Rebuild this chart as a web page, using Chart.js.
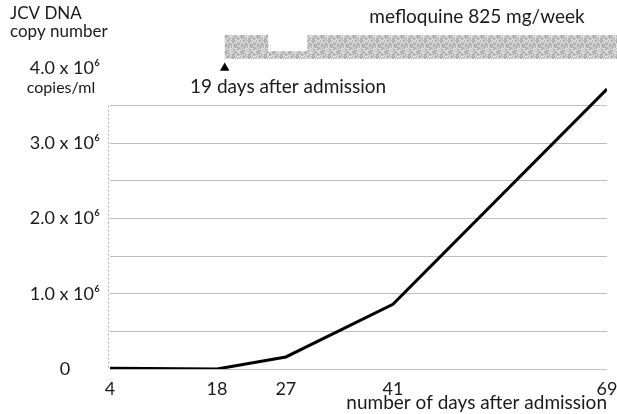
<!DOCTYPE html>
<html>
<head>
<meta charset="utf-8">
<script src="https://cdn.jsdelivr.net/npm/chart.js@4.4.1/dist/chart.umd.min.js"></script>
<style>
  html, body { margin: 0; padding: 0; background: #ffffff; }
  #wrap { width: 617px; height: 414px; }
</style>
</head>
<body>
<div id="wrap"><canvas id="c" width="617" height="414"></canvas></div>
<script>
// ---- data ----
const days = [4, 18, 27, 41, 69];
const copies = [10000, 0, 160000, 860000, 3720000];
const xTicks = [4, 18, 27, 41, 69];
const yTickValues = [0, 500000, 1000000, 1500000, 2000000, 2500000, 3000000, 3500000, 4000000];
const yTickLabels = ['0', '', '1.0 x 10\u2076', '', '2.0 x 10\u2076', '', '3.0 x 10\u2076', '', '4.0 x 10\u2076'];
const markerDay = [19];
const markerLevel = [4000000];
// mefloquine band (drawn above the plot, in axis units)
const bandStart = [19, 24.7, 29.8];
const bandEnd = [24.7, 29.8, 70.3];
const bandTop = [4440000, 4225000, 4440000];
const bandBottom = [4120000, 4120000, 4120000];

const FONT = 'Lato, "Open Sans", "DejaVu Sans", sans-serif';
const TXT = '#1a1a1a';

function makePattern() {
  // deterministic stipple texture (style only)
  const n = 16;
  const pc = document.createElement('canvas');
  pc.width = n; pc.height = n;
  const g = pc.getContext('2d');
  let h = 12345;
  for (let j = 0; j < n; j++) {
    for (let i = 0; i < n; i++) {
      h = (h * 1103515245 + 12345) & 0x7fffffff;
      const t = (h >> 8) % 100;
      const v = 158 + Math.round(t * 0.75);
      g.fillStyle = 'rgb(' + v + ',' + v + ',' + v + ')';
      g.fillRect(i, j, 1, 1);
    }
  }
  return g.createPattern(pc, 'repeat');
}

const extras = {
  id: 'extras',
  beforeDatasetsDraw(chart) {
    const {ctx, scales: {x, y}} = chart;
    ctx.save();
    ctx.strokeStyle = '#b0b0b0';
    ctx.lineWidth = 1;
    ctx.setLineDash([2, 2]);
    const ax = Math.round(x.getPixelForValue(xTicks[0])) - 1.5;
    ctx.beginPath();
    ctx.moveTo(ax, y.getPixelForValue(yTickValues[yTickValues.length - 2]));
    ctx.lineTo(ax, y.getPixelForValue(0));
    ctx.stroke();
    ctx.restore();
  },
  afterDraw(chart) {
    const {ctx, scales: {x, y}} = chart;
    ctx.save();
    ctx.fillStyle = makePattern();
    for (let i = 0; i < bandStart.length; i++) {
      const x0 = x.getPixelForValue(bandStart[i]);
      const x1 = x.getPixelForValue(bandEnd[i]);
      const y0 = y.getPixelForValue(bandTop[i]);
      const y1 = y.getPixelForValue(bandBottom[i]);
      ctx.fillRect(x0, y0, x1 - x0, y1 - y0);
    }
    ctx.fillStyle = TXT;
    ctx.textBaseline = 'middle';
    ctx.textAlign = 'left';
    ctx.font = '17px ' + FONT;
    ctx.fillText('JCV DNA', 10, 14);
    ctx.fillText('copy number', 10, 32);
    ctx.font = '19px ' + FONT;
    ctx.fillText('19 days after admission', 190, 87);
    ctx.textAlign = 'center';
    ctx.fillText('mefloquine 825 mg/week', 477, 17);
    ctx.font = '16px ' + FONT;
    ctx.fillText('copies/ml', 61, 88);
    ctx.restore();
  }
};

new Chart(document.getElementById('c'), {
  type: 'line',
  data: {
    datasets: [
      {
        label: 'JCV DNA',
        data: days.map((d, i) => ({x: d, y: copies[i]})),
        borderColor: '#000000',
        borderWidth: 3,
        tension: 0,
        pointRadius: 0,
        fill: false
      },
      {
        type: 'scatter',
        label: 'start',
        data: markerDay.map((d, i) => ({x: d, y: markerLevel[i]})),
        pointStyle: 'triangle',
        pointRadius: 5.5,
        backgroundColor: '#000000',
        borderColor: '#000000',
        borderWidth: 0,
        clip: false
      }
    ]
  },
  options: {
    responsive: false,
    animation: false,
    devicePixelRatio: 1,
    layout: { padding: { top: 68, right: 10, left: 0, bottom: 0 } },
    plugins: { legend: { display: false }, tooltip: { enabled: false } },
    scales: {
      x: {
        type: 'linear',
        min: 4,
        max: 69,
        afterBuildTicks: (s) => { s.ticks = xTicks.map(v => ({value: v})); },
        afterFit: (s) => { s.height = 45; s.paddingRight = 0; s.paddingLeft = 0; },
        grid: { display: false },
        border: { display: false },
        ticks: {
          color: TXT,
          font: { family: FONT, size: 18 },
          padding: 1,
          maxRotation: 0,
          autoSkip: false,
          callback: (v) => String(v)
        },
        title: {
          display: true,
          text: 'number of days after admission',
          align: 'end',
          color: TXT,
          font: { family: FONT, size: 19 },
          padding: { top: 0, bottom: 0 }
        }
      },
      y: {
        type: 'linear',
        min: 0,
        max: 4000000,
        afterBuildTicks: (s) => { s.ticks = yTickValues.map(v => ({value: v})); },
        afterFit: (s) => { s.width = 110; },
        border: { display: false },
        grid: {
          drawTicks: false,
          lineWidth: 1,
          color: (c) => (c.tick && c.tick.value >= 4000000) ? 'rgba(0,0,0,0)' : '#bdbdbd'
        },
        ticks: {
          color: TXT,
          font: { family: FONT, size: 18 },
          padding: 10,
          crossAlign: 'center',
          autoSkip: false,
          callback: (v, i) => yTickLabels[i]
        }
      }
    }
  },
  plugins: [extras]
});
</script>
</body>
</html>
